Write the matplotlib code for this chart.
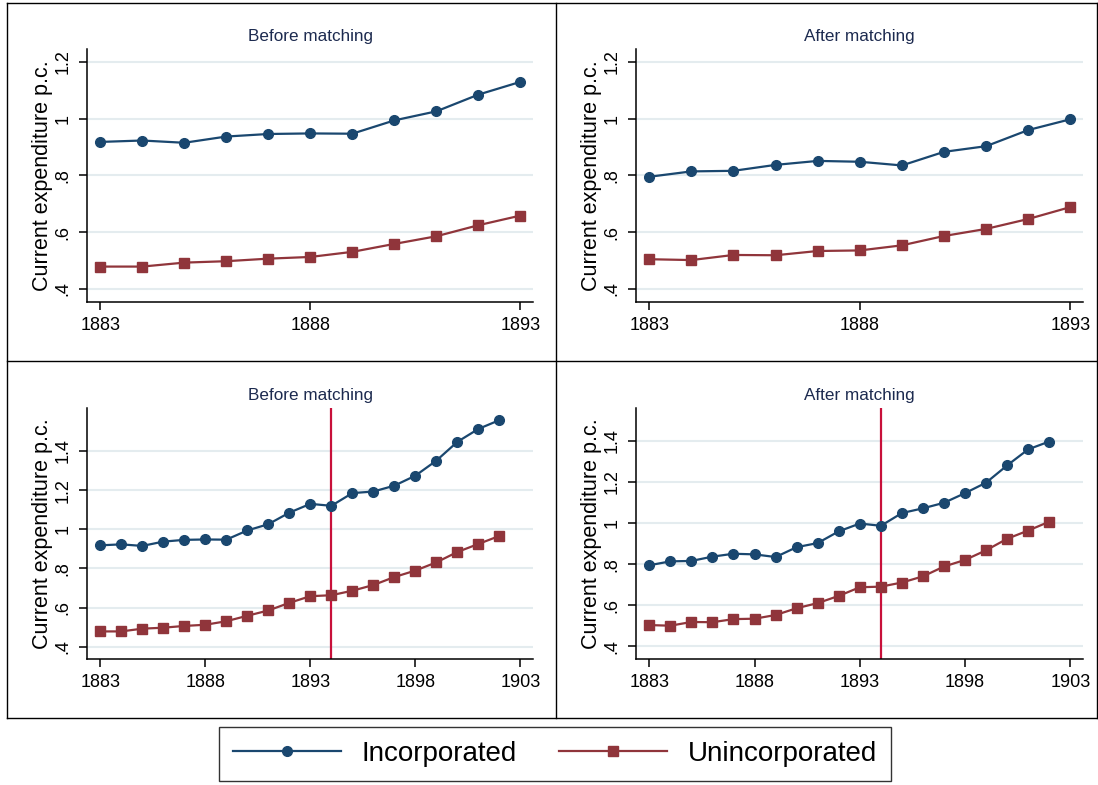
import matplotlib
matplotlib.use("Agg")
import matplotlib.pyplot as plt
from matplotlib.lines import Line2D
from matplotlib.ticker import FuncFormatter

plt.rcParams['font.family'] = ['Liberation Sans', 'DejaVu Sans']

# data
years = [1883, 1884, 1885, 1886, 1887, 1888, 1889, 1890, 1891, 1892,
         1893, 1894, 1895, 1896, 1897, 1898, 1899, 1900, 1901, 1902]
before_inc = [0.918, 0.923, 0.915, 0.937, 0.946, 0.948, 0.947, 0.994, 1.026, 1.085,
              1.130, 1.120, 1.185, 1.193, 1.223, 1.274, 1.351, 1.447, 1.513, 1.558]
before_uninc = [0.478, 0.478, 0.492, 0.497, 0.506, 0.512, 0.530, 0.558, 0.585, 0.624,
                0.658, 0.663, 0.686, 0.715, 0.756, 0.789, 0.831, 0.884, 0.925, 0.966]
after_inc = [0.795, 0.814, 0.816, 0.837, 0.851, 0.848, 0.835, 0.883, 0.903, 0.960,
             0.998, 0.987, 1.049, 1.072, 1.099, 1.146, 1.197, 1.281, 1.359, 1.397]
after_uninc = [0.504, 0.501, 0.519, 0.518, 0.533, 0.535, 0.553, 0.586, 0.611, 0.646,
               0.688, 0.691, 0.711, 0.741, 0.789, 0.821, 0.868, 0.924, 0.964, 1.007]
n_short = 11  # top row stops at 1893
cutoff_year = 1894

navy = '#1a476f'
maroon = '#90353b'
grid_col = '#e4ecef'
title_col = '#1c2a4f'
vline_col = '#c8103a'

W, H = 1098, 785
fig = plt.figure(figsize=(W / 100, H / 100), dpi=100)


def px_box(l, t, r, b):
    return [l / W, 1 - b / H, (r - l) / W, (b - t) / H]


def yfmt(v, pos):
    s = f"{round(v, 2):g}"
    return s[1:] if s.startswith("0.") else s


panels = [
    (px_box(87, 49, 533, 302), "Before matching", before_inc, before_uninc, False),
    (px_box(636, 49, 1083, 302), "After matching", after_inc, after_uninc, False),
    (px_box(87, 408, 533, 659), "Before matching", before_inc, before_uninc, True),
    (px_box(636, 408, 1083, 659), "After matching", after_inc, after_uninc, True),
]

for rect, title, inc, uninc, full in panels:
    ax = fig.add_axes(rect)
    n = len(years) if full else n_short
    ax.plot(years[:n], inc[:n], color=navy, lw=1.6, marker='o', ms=7, clip_on=False, zorder=3)
    ax.plot(years[:n], uninc[:n], color=maroon, lw=1.6, marker='s', ms=7, clip_on=False, zorder=3)
    if full:
        ax.axvline(cutoff_year, color=vline_col, lw=1.6, zorder=2)
        ax.set_xlim(1882.37, 1903.6)
        ax.set_xticks([1883, 1888, 1893, 1898, 1903])
        ax.set_yticks([0.4, 0.6, 0.8, 1.0, 1.2, 1.4])
        if inc is before_inc:
            ax.set_ylim(0.337, 1.62)
        else:
            ax.set_ylim(0.339, 1.56)
    else:
        ax.set_xlim(1882.686, 1893.3)
        ax.set_xticks([1883, 1888, 1893])
        ax.set_yticks([0.4, 0.6, 0.8, 1.0, 1.2])
        ax.set_ylim(0.353, 1.246)
    ax.yaxis.set_major_formatter(FuncFormatter(yfmt))
    ax.grid(axis='y', color=grid_col, lw=1.5, zorder=0)
    ax.set_axisbelow(True)
    for s in ('top', 'right'):
        ax.spines[s].set_visible(False)
    for s in ('left', 'bottom'):
        ax.spines[s].set_linewidth(1.1)
    ax.tick_params(axis='both', direction='out', length=6, width=1.1, labelsize=13, pad=5)
    for lab in ax.get_yticklabels():
        lab.set_rotation(90)
        lab.set_va('center')
    ax.set_ylabel("Current expenditure p.c.", fontsize=15.5, labelpad=1.5)
    ax.set_title(title, fontsize=12.3, color=title_col, pad=6)

# panel frames
for x in (7, 555.5, 1097):
    fig.add_artist(Line2D([x / W, x / W], [1 - 2.5 / H, 1 - 717.5 / H], color='black', lw=1.0))
for y in (2.5, 360.5, 717.5):
    fig.add_artist(Line2D([7 / W, 1097 / W], [1 - y / H, 1 - y / H], color='black', lw=1.0))

handles = [Line2D([], [], color=navy, lw=1.6, marker='o', ms=7),
           Line2D([], [], color=maroon, lw=1.6, marker='s', ms=7)]
leg = fig.legend(handles, ["Incorporated", "Unincorporated"], ncol=2,
                 loc='center', bbox_to_anchor=(555 / W, 1 - 754 / H),
                 fontsize=20, frameon=True, fancybox=False, edgecolor='black',
                 handlelength=3.9, handletextpad=0.75, columnspacing=1.5,
                 borderpad=0.5, borderaxespad=0)
leg.get_frame().set_linewidth(1.0)

fig.savefig("out.png", dpi=100, facecolor='white')
